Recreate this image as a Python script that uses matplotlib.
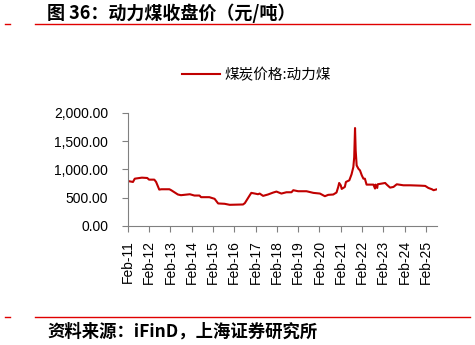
import numpy as np
import pandas as pd
import matplotlib
matplotlib.use("Agg")
import matplotlib.pyplot as plt
import matplotlib.dates as mdates
from matplotlib.ticker import FuncFormatter

plt.rcParams['font.family'] = ['Liberation Sans', 'Noto Sans CJK SC', 'DejaVu Sans']

dates = ["2011-02-01", "2011-05-01", "2011-06-01", "2011-10-01", "2012-01-01",
         "2012-02-01", "2012-05-01", "2012-06-01", "2012-07-25", "2012-09-01",
         "2013-01-15", "2013-02-15", "2013-06-10", "2013-08-01", "2014-01-01",
         "2014-03-20", "2014-06-15", "2014-07-12", "2014-12-01", "2015-03-01",
         "2015-05-01", "2015-08-20", "2015-11-15", "2016-07-01", "2016-08-01",
         "2016-10-25", "2016-11-20", "2017-01-20", "2017-03-15", "2017-04-12",
         "2017-06-10", "2017-09-01", "2017-12-01", "2018-01-25", "2018-04-20",
         "2018-07-15", "2018-10-10", "2018-11-10", "2019-02-01", "2019-06-25",
         "2019-10-20", "2020-02-10", "2020-05-05", "2020-07-01", "2020-09-25",
         "2020-11-20", "2020-12-20", "2021-01-05", "2021-02-01", "2021-02-18",
         "2021-04-12", "2021-05-01", "2021-06-28", "2021-08-05", "2021-09-05",
         "2021-09-20", "2021-10-04", "2021-10-15", "2021-11-01", "2021-12-01",
         "2021-12-28", "2022-01-28", "2022-02-25", "2022-03-22", "2022-04-20",
         "2022-08-15", "2022-09-12", "2022-09-20", "2022-10-20", "2022-10-28",
         "2023-03-05", "2023-04-01", "2023-05-28", "2023-07-25", "2023-09-20",
         "2024-01-12", "2024-05-05", "2024-10-25", "2025-01-20", "2025-03-15",
         "2025-05-15", "2025-06-12", "2025-08-10"]
price = [795, 778, 836, 854, 848,
         819, 819, 778, 643, 649,
         649, 632, 556, 544, 561,
         538, 538, 509, 509, 480,
         398, 392, 374, 380, 404,
         544, 585, 573, 561, 573,
         532, 556, 591, 608, 573,
         596, 596, 632, 614, 614,
         585, 573, 526, 550, 556,
         591, 690, 760, 719, 655,
         690, 778, 807, 912, 1041,
         1216, 1731, 1333, 1070, 1012,
         982, 895, 836, 836, 731,
         731, 661, 731, 672, 737,
         760, 731, 678, 690, 737,
         719, 719, 713, 708, 672,
         649, 632, 649]

x = pd.to_datetime(dates)
tick_dates = pd.to_datetime([f"{y}-02-01" for y in range(2011, 2026)])

fig = plt.figure(figsize=(4.75, 3.45), dpi=100)
ax = fig.add_axes([0.269, 0.345, 0.651, 0.328])

ax.plot(x, price, color='#C00000', lw=1.5, label='煤炭价格:动力煤')
ax.set_ylim(0, 2000)
ax.set_xlim(pd.Timestamp("2011-02-01"), pd.Timestamp("2025-08-10"))
ax.set_yticks([0, 500, 1000, 1500, 2000])
ax.yaxis.set_major_formatter(FuncFormatter(lambda v, p: f"{v:,.2f}"))
ax.set_xticks(tick_dates)
ax.xaxis.set_major_formatter(mdates.DateFormatter('%b-%y'))
plt.setp(ax.get_xticklabels(), rotation=90)

for s in ['top', 'right']:
    ax.spines[s].set_visible(False)
for s in ['left', 'bottom']:
    ax.spines[s].set_color('#808080')
    ax.spines[s].set_linewidth(0.8)
ax.tick_params(axis='both', colors='#808080', labelcolor='black', labelsize=10,
               length=4, width=0.8)
ax.tick_params(axis='y', pad=10)
ax.tick_params(axis='x', pad=6)

leg = fig.legend(loc='center', bbox_to_anchor=(0.54, 0.783), frameon=False,
                 prop={'family': ['Noto Sans CJK SC'], 'size': 10.5},
                 handlelength=2.6, handletextpad=0.3)

# header and footer
fig.text(0.099, 0.962, '图 36：动力煤收盘价（元/吨）', fontsize=13, fontweight='bold',
         family=['Noto Sans CJK SC'], va='center', ha='left')
fig.add_artist(plt.Line2D([35/475, 470/475], [1-24/345]*2, color='#E00000', lw=1))
fig.add_artist(plt.Line2D([5/475, 10/475], [1-24/345]*2, color='#E00000', lw=1))
fig.add_artist(plt.Line2D([35/475, 470/475], [1-317/345]*2, color='#E00000', lw=1))
fig.add_artist(plt.Line2D([5/475, 10/475], [1-317/345]*2, color='#E00000', lw=1))
fig.text(0.099, 1-332/345, '资料来源：iFinD，上海证券研究所', fontsize=12.5,
         fontweight='bold', style='italic', family=['Noto Sans CJK SC'],
         va='center', ha='left')

fig.savefig('out.png', dpi=100)
